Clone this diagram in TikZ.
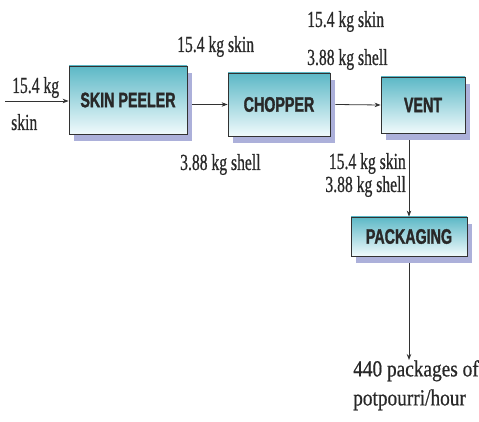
\documentclass[tikz,border=0pt]{standalone}
\usepackage{fontspec}
\setmainfont{Liberation Serif}[FakeStretch=0.68, FakeBold=0.6]
\newfontfamily\unitfont{Liberation Sans}[FakeStretch=0.68, BoldFeatures={FakeBold=1.5}]
\newfontfamily\outfont{Liberation Serif}[FakeStretch=0.84, FakeBold=0.6]
\usepackage{tikz}
\usetikzlibrary{arrows.meta,positioning,shadows}
\definecolor{boxtop}{RGB}{92,184,198}
\definecolor{boxbot}{RGB}{240,250,252}
\definecolor{shadowblue}{RGB}{172,176,218}
\definecolor{linegray}{RGB}{50,50,50}
\definecolor{txtgray}{RGB}{40,40,40}

\begin{document}
\begin{tikzpicture}[x=1pt, y=-1pt,
      unit/.style={draw=linegray, thick, top color=boxtop, bottom color=boxbot,
                   drop shadow={shadow xshift=5pt, shadow yshift=-7pt,
                                fill=shadowblue, opacity=1},
                   font=\unitfont\bfseries\fontsize{21}{24}\selectfont,
                   text=txtgray, inner sep=0pt},
      lbl/.style={font=\fontsize{23}{23}\selectfont, text=txtgray, inner sep=0pt},
      arr/.style={-{Stealth[length=6pt, width=4.5pt]}, thick, color=linegray}
  ]
    \useasboundingbox (0,0) rectangle (479,422);
    % process units
    \node[unit, minimum width=118pt, minimum height=68pt] (sp) at (128,100)   {SKIN PEELER};
    \node[unit, minimum width=102pt, minimum height=63pt] (ch) at (279,104.5) {CHOPPER};
    \node[unit, minimum width=84pt,  minimum height=56pt] (vt) at (423,105)   {VENT};
    \node[unit, minimum width=116pt, minimum height=39pt] (pk) at (409,236.5) {PACKAGING};
    \coordinate (src) at (5,101);
    % stream labels
    \node[lbl, anchor=base west] (inkg)   at (12,93)   {15.4 kg};
    \node[lbl, anchor=base west] (inskin) at (11,130)  {skin};
    \node[lbl, anchor=base west] (spskin) at (177,52)  {15.4 kg skin};
    \node[lbl, anchor=base west] (spshl)  at (180,170) {3.88 kg shell};
    \node[lbl, anchor=base west] (chskin) at (307,27)  {15.4 kg skin};
    \node[lbl, anchor=base west] (chshl)  at (307,65)  {3.88 kg shell};
    \node[lbl, anchor=base east] (vtskin) at (406,169) {15.4 kg skin};
    \node[lbl, anchor=base east] (vtshl)  at (406,192) {3.88 kg shell};
    \node[lbl, font=\outfont\fontsize{23}{29}\selectfont, align=left,
          anchor=north west] (out) at (353,360) {440 packages of\\ potpourri/hour};
    % streams
    \draw[arr] (src) -- (src -| sp.west);
    \draw[arr] ([xshift=5pt]sp.east |- ch.west) -- (ch.west);
    \draw[arr] ([xshift=5pt]ch.east) -- (vt.west);
    \draw[arr] ([yshift=-7pt]vt.south -| pk.north) -- (pk.north);
    \draw[arr] ([yshift=-7pt]pk.south) -- (pk.south |- out.north);
  \end{tikzpicture}
\end{document}
